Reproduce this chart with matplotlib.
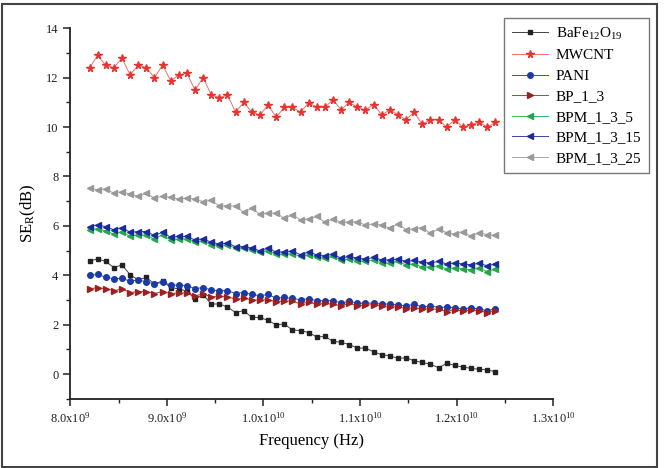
import numpy as np
import matplotlib
matplotlib.use("Agg")
import matplotlib.pyplot as plt
from matplotlib.ticker import FixedLocator, MultipleLocator, FixedFormatter
from matplotlib.patches import Rectangle

plt.rcParams['font.family'] = ['Liberation Serif', 'DejaVu Serif']
plt.rcParams['mathtext.fontset'] = 'custom'
plt.rcParams['mathtext.rm'] = 'Liberation Serif'
plt.rcParams['mathtext.it'] = 'Liberation Serif:italic'

freq = np.linspace(8.2e9, 12.4e9, 51)

bafe = [4.58, 4.66, 4.56, 4.31, 4.42, 4.02, 3.81, 3.91, 3.65, 3.77, 3.50, 3.45, 3.35, 3.03, 3.21,
        2.83, 2.84, 2.71, 2.49, 2.57, 2.29, 2.29, 2.17, 1.99, 2.03, 1.78, 1.76, 1.68, 1.50, 1.52,
        1.32, 1.29, 1.19, 1.05, 1.05, 0.90, 0.78, 0.74, 0.63, 0.66, 0.53, 0.47, 0.40, 0.25, 0.43,
        0.35, 0.28, 0.23, 0.19, 0.17, 0.09]
mwcnt = [12.40, 12.90, 12.50, 12.40, 12.80, 12.11, 12.51, 12.40, 12.00, 12.51, 11.88, 12.10, 12.18,
         11.50, 12.00, 11.30, 11.19, 11.30, 10.60, 11.00, 10.60, 10.49, 10.89, 10.40, 10.80, 10.80,
         10.60, 10.99, 10.80, 10.80, 11.11, 10.70, 11.00, 10.80, 10.69, 10.91, 10.50, 10.69, 10.50,
         10.30, 10.60, 10.11, 10.30, 10.30, 10.00, 10.30, 10.00, 10.10, 10.19, 10.00, 10.19]
pani = [4.00, 4.03, 3.92, 3.86, 3.87, 3.76, 3.81, 3.73, 3.65, 3.71, 3.60, 3.60, 3.58, 3.46, 3.50,
        3.40, 3.37, 3.38, 3.26, 3.30, 3.22, 3.17, 3.22, 3.07, 3.10, 3.06, 3.01, 3.05, 2.97, 2.97,
        2.97, 2.88, 2.94, 2.87, 2.86, 2.88, 2.82, 2.84, 2.79, 2.76, 2.83, 2.71, 2.76, 2.69, 2.71,
        2.69, 2.63, 2.68, 2.63, 2.57, 2.64]
bp_1_3 = [3.46, 3.49, 3.45, 3.38, 3.44, 3.30, 3.34, 3.34, 3.26, 3.34, 3.26, 3.28, 3.28, 3.17, 3.24,
          3.13, 3.14, 3.13, 3.03, 3.06, 3.01, 2.98, 3.01, 2.92, 2.96, 2.95, 2.84, 2.92, 2.82, 2.86,
          2.82, 2.76, 2.87, 2.76, 2.79, 2.81, 2.74, 2.71, 2.73, 2.64, 2.69, 2.62, 2.64, 2.62, 2.53,
          2.61, 2.55, 2.59, 2.57, 2.49, 2.55]
bpm_1_3_5 = [5.84, 5.88, 5.80, 5.66, 5.77, 5.57, 5.64, 5.61, 5.47, 5.64, 5.43, 5.47, 5.47, 5.34, 5.39,
             5.23, 5.20, 5.23, 5.10, 5.10, 5.03, 4.94, 4.99, 4.85, 4.85, 4.87, 4.76, 4.83, 4.72, 4.69,
             4.76, 4.60, 4.66, 4.58, 4.56, 4.62, 4.49, 4.49, 4.56, 4.42, 4.46, 4.33, 4.33, 4.38, 4.26,
             4.29, 4.25, 4.22, 4.29, 4.15, 4.25]
bpm_1_3_15 = [5.97, 6.04, 5.97, 5.84, 5.93, 5.74, 5.77, 5.77, 5.61, 5.74, 5.54, 5.57, 5.57, 5.43, 5.47,
              5.34, 5.26, 5.30, 5.16, 5.16, 5.10, 4.99, 5.10, 4.94, 4.94, 4.98, 4.83, 4.94, 4.83, 4.79,
              4.85, 4.69, 4.76, 4.69, 4.65, 4.72, 4.62, 4.62, 4.65, 4.56, 4.60, 4.53, 4.49, 4.56, 4.46,
              4.49, 4.46, 4.42, 4.49, 4.38, 4.46]
bpm_1_3_25 = [7.52, 7.46, 7.50, 7.32, 7.39, 7.28, 7.20, 7.32, 7.12, 7.20, 7.15, 7.09, 7.12, 7.09, 6.98,
              7.04, 6.80, 6.82, 6.80, 6.55, 6.72, 6.47, 6.51, 6.51, 6.31, 6.45, 6.24, 6.27, 6.38, 6.15,
              6.27, 6.15, 6.15, 6.17, 6.03, 6.08, 6.03, 5.91, 6.08, 5.85, 5.87, 5.93, 5.70, 5.87, 5.73,
              5.66, 5.77, 5.57, 5.73, 5.64, 5.62]

xticks = [8.0e9, 9.0e9, 1.0e10, 1.1e10, 1.2e10, 1.3e10]
xticklabels = ['8.0x10$^{9}$', '9.0x10$^{9}$', '1.0x10$^{10}$', '1.1x10$^{10}$',
               '1.2x10$^{10}$', '1.3x10$^{10}$']
yticks = [0, 2, 4, 6, 8, 10, 12, 14]

series = [
    ('BaFe$_{12}$O$_{19}$', bafe, 's', '#222222', '#444444', 3.5),
    ('MWCNT', mwcnt, '*', '#E8332E', '#F07070', 5.5),
    ('PANI', pani, 'o', '#1C3AA6', '#3050B8', 4),
    ('BP_1_3', bp_1_3, '>', '#9E1F1F', '#B04040', 4),
    ('BPM_1_3_5', bpm_1_3_5, '<', '#22A84A', '#40B860', 4),
    ('BPM_1_3_15', bpm_1_3_15, '<', '#1A2C9C', '#3344AA', 4),
    ('BPM_1_3_25', bpm_1_3_25, '<', '#999999', '#A8A8A8', 4),
]

fig = plt.figure(figsize=(6.64, 4.68), dpi=100)
ax = fig.add_axes([70.2 / 664, 1 - 398.7 / 468, (553.3 - 70.2) / 664, (398.7 - 28.3) / 468])

handles = []
for label, vals, mk, mc, lc, ms in series:
    h, = ax.plot(freq, vals, color=lc, lw=0.7, marker=mk, markersize=ms,
                 markerfacecolor=mc, markeredgecolor=mc, label=label)
    handles.append(h)

ax.set_xlim(8.0e9, 1.3e10)
ax.set_ylim(-1, 14)
ax.xaxis.set_major_locator(FixedLocator(xticks))
ax.xaxis.set_major_formatter(FixedFormatter(xticklabels))
ax.xaxis.set_minor_locator(MultipleLocator(0.5e9))
ax.yaxis.set_major_locator(FixedLocator(yticks))
ax.yaxis.set_minor_locator(MultipleLocator(1))

for s in ['top', 'right']:
    ax.spines[s].set_visible(False)
for s in ['left', 'bottom']:
    ax.spines[s].set_linewidth(1.3)
    ax.spines[s].set_color('#222222')

ax.tick_params(axis='both', which='major', direction='out', length=5, width=1.1,
               labelsize=9, colors='#222222')
ax.tick_params(axis='both', which='minor', direction='out', length=3, width=1.0, colors='#222222')

ax.set_xlabel('Frequency (Hz)', fontsize=12, labelpad=6)
ax.set_ylabel('SE$_{\\mathrm{R}}$(dB)', fontsize=12, labelpad=6)

leg = fig.legend(handles=handles, loc='upper left', bbox_to_anchor=(504 / 664, 1 - 18 / 468),
                 frameon=True, fancybox=False, fontsize=11, handlelength=2.4,
                 labelspacing=0.45, borderpad=0.5, handletextpad=0.5, borderaxespad=0)
leg.get_frame().set_edgecolor('#555555')
leg.get_frame().set_linewidth(1.0)

fig.patches.append(Rectangle((0.003, 0.003), 0.987, 0.989, transform=fig.transFigure,
                             fill=False, edgecolor='#444444', linewidth=1.5))

fig.savefig('out.png', dpi=100)
